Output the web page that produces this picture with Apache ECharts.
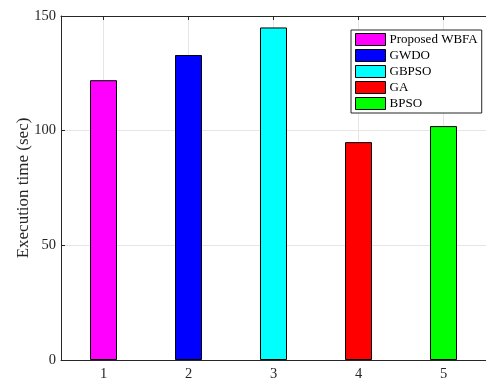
<!DOCTYPE html>
<html>
<head>
<meta charset="utf-8">
<script src="https://cdn.jsdelivr.net/npm/echarts@6/dist/echarts.min.js"></script>
<style>html,body{margin:0;padding:0;background:#fff;}#c{width:486px;height:382px;}</style>
</head>
<body>
<div id="c"></div>
<script>
var categories = ['1', '2', '3', '4', '5'];
var seriesNames = ['Proposed WBFA', 'GWDO', 'GBPSO', 'GA', 'BPSO'];
var values = [122, 133, 145, 95, 102];
var colors = ['#ff00ff', '#0000ff', '#00ffff', '#ff0000', '#00ff00'];
var yTicks = [0, 50, 100, 150];

var font = '"Liberation Serif", "Times New Roman", serif';
var axisColor = '#262626';
var chart = echarts.init(document.getElementById('c'), null, {renderer: 'canvas'});

var series = seriesNames.map(function (name, i) {
  return {
    name: name,
    type: 'bar',
    stack: 'all',
    barWidth: 27,
    data: categories.map(function (c, j) { return j === i ? values[i] : null; }),
    itemStyle: {color: colors[i], borderColor: '#000', borderWidth: 1},
    emphasis: {disabled: true}
  };
});

chart.setOption({
  animation: false,
  backgroundColor: '#fff',
  grid: {left: 61, right: -10, top: 16, bottom: 22, containLabel: false},
  legend: {
    orient: 'vertical',
    left: 351, top: 30,
    data: seriesNames,
    icon: 'rect',
    itemWidth: 30, itemHeight: 12, itemGap: 3,
    padding: [3, 4, 3, 4],
    backgroundColor: '#fff',
    borderColor: '#262626', borderWidth: 1,
    textStyle: {fontFamily: font, fontSize: 13, color: '#000', padding: [0, 0, 0, -1]},
    itemStyle: {borderColor: '#000', borderWidth: 1}
  },
  xAxis: [{
    type: 'category',
    data: categories,
    boundaryGap: true,
    axisLine: {show: true, lineStyle: {color: axisColor, width: 1}},
    axisTick: {show: true, inside: true, alignWithLabel: true, length: 4, lineStyle: {color: axisColor}},
    axisLabel: {fontFamily: font, fontSize: 14.5, color: axisColor, margin: 7},
    splitLine: {show: true, alignWithLabel: true, lineStyle: {color: '#e6e6e6', width: 1}}
  }, {
    type: 'category',
    position: 'top',
    data: categories,
    boundaryGap: true,
    axisLine: {show: true, lineStyle: {color: axisColor, width: 1}},
    axisTick: {show: true, inside: true, alignWithLabel: true, length: 4, lineStyle: {color: axisColor}},
    axisLabel: {show: false},
    splitLine: {show: false}
  }],
  yAxis: {
    type: 'value',
    min: yTicks[0], max: yTicks[yTicks.length - 1], interval: 50,
    name: 'Execution time (sec)',
    nameLocation: 'middle',
    nameGap: 29,
    nameMoveOverlap: false,
    nameTextStyle: {fontFamily: font, fontSize: 17, color: axisColor},
    axisLine: {show: true, lineStyle: {color: axisColor, width: 1}},
    axisTick: {show: true, inside: true, length: 4, lineStyle: {color: axisColor}},
    axisLabel: {fontFamily: font, fontSize: 14.5, color: axisColor, margin: 5},
    splitLine: {show: true, lineStyle: {color: '#e6e6e6', width: 1}}
  },
  series: series
});
</script>
</body>
</html>
